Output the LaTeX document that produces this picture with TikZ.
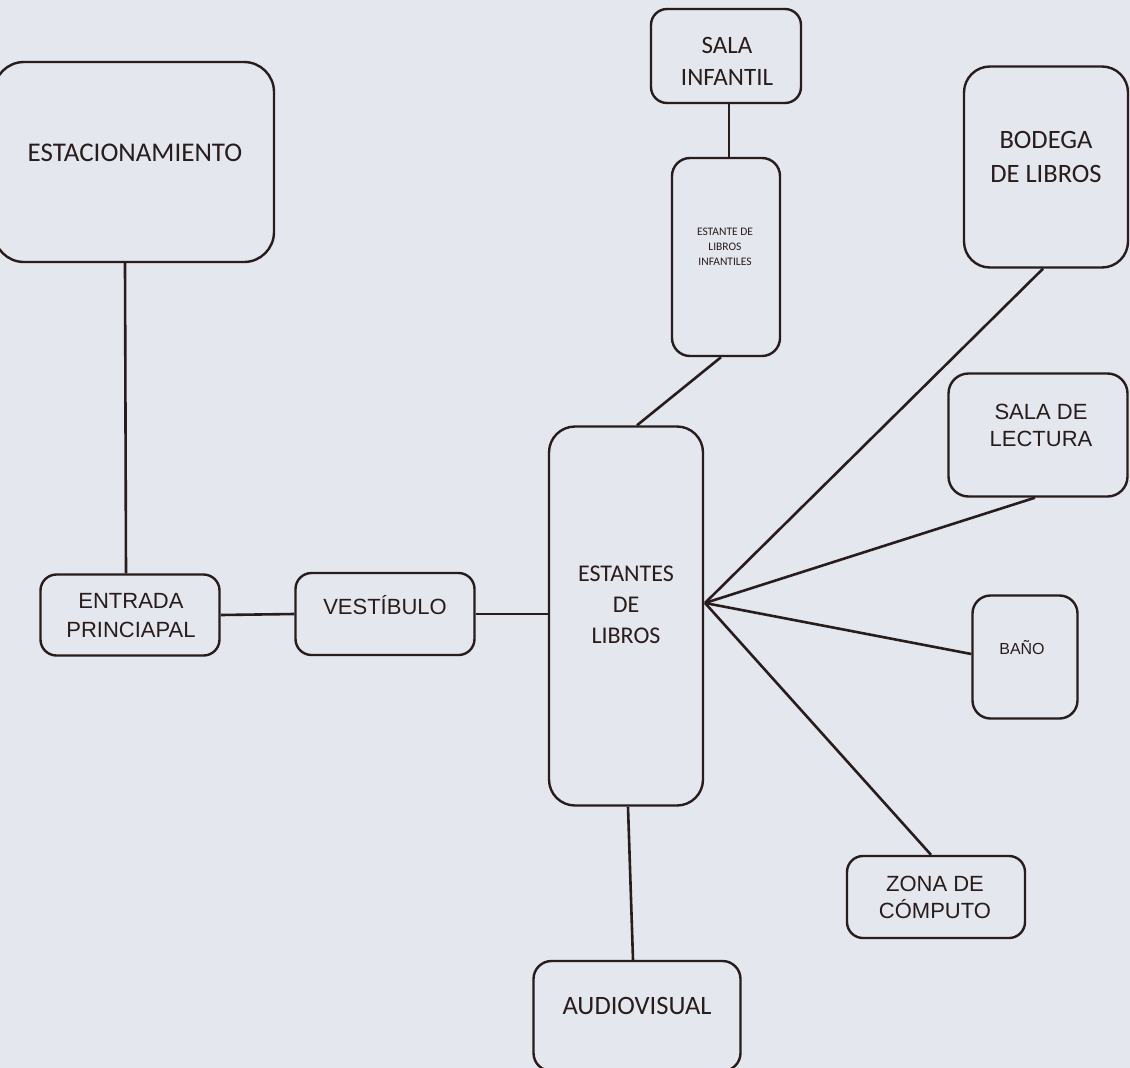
\documentclass[tikz,border=0pt]{standalone}
\usepackage{fontspec}
\setmainfont{Carlito}
\newfontfamily\arialf{Liberation Sans}
\usetikzlibrary{calc}
\definecolor{ink}{RGB}{40,28,28}
\definecolor{paper}{RGB}{228,231,237}
\tikzset{
  box/.style={draw=ink, line width=2.4pt, rounded corners=16pt, inner sep=0pt, fill=none},
  wire/.style={draw=ink, line width=2.6pt},
  carl/.style={text=ink, align=center, inner sep=0pt, font=\fontsize{25}{32}\selectfont},
  ari/.style={text=ink, align=center, inner sep=0pt, font=\arialf\fontsize{22}{27}\selectfont},
}
\begin{document}
\begin{tikzpicture}[x=1pt,y=-1pt]
\fill[paper] (0,0) rectangle (1130,1068);
\useasboundingbox (0,0) rectangle (1130,1068);

% boxes
\node[box, rounded corners=30pt, minimum width=280pt, minimum height=200pt] (est) at (134,162) {};
\node[carl, font=\fontsize{27}{32}\selectfont] (estT) at (135,153) {ESTACIONAMIENTO};

\node[box, minimum width=150pt, minimum height=94pt] (sinf) at (726,56) {};
\node[carl] (sinfT) at (727,61) {SALA\\INFANTIL};

\node[box, rounded corners=18pt, minimum width=108pt, minimum height=198pt] (inf) at (726,257) {};
\node[carl, font=\fontsize{11.5}{15}\selectfont] (infT) at (725,247) {ESTANTE DE\\LIBROS\\INFANTILES};

\node[box, rounded corners=26pt, minimum width=164pt, minimum height=201pt] (bod) at (1046,167) {};
\node[carl, font=\fontsize{26.5}{34}\selectfont] (bodT) at (1046,157) {BODEGA\\DE LIBROS};

\node[box, rounded corners=20pt, minimum width=179pt, minimum height=123pt] (lec) at (1038,435) {};
\node[ari] (lecT) at (1041,425) {SALA DE\\LECTURA};

\node[box, rounded corners=18pt, minimum width=105pt, minimum height=123pt] (bano) at (1025,657) {};
\node[ari, font=\arialf\fontsize{16}{18}\selectfont] (banoT) at (1022,648) {BAÑO};

\node[box, minimum width=178pt, minimum height=82pt] (comp) at (936,897) {};
\node[ari] (compT) at (935,897) {ZONA DE\\CÓMPUTO};

\node[box, rounded corners=18pt, minimum width=207pt, minimum height=110pt] (aud) at (637,1016) {};
\node[carl, font=\fontsize{26.5}{32}\selectfont] (audT) at (637,1006) {AUDIOVISUAL};

\node[box, rounded corners=26pt, minimum width=154pt, minimum height=379pt] (lib) at (626,616) {};
\node[carl, font=\fontsize{24}{31}\selectfont] (libT) at (626,605) {ESTANTES\\DE\\LIBROS};

\node[box, minimum width=179pt, minimum height=81pt] (ent) at (130,615) {};
\node[ari, font=\arialf\fontsize{22}{29}\selectfont] (entT) at (131,616) {ENTRADA\\PRINCIAPAL};

\node[box, minimum width=179pt, minimum height=82pt] (ves) at (385,614) {};
\node[ari] (vesT) at (385,605) {VESTÍBULO};

\coordinate (hub) at (705,603);

% connectors
\draw[wire] ($(est.south)+(-9,0)$) -- ($(ent.north)+(-4,0)$);
\draw[wire] (ent.east) -- (ves.west);
\draw[wire] (ves.east) -- ($(lib.west)+(0,-2)$);
\draw[wire] ($(sinf.south)+(3,0)$) -- ($(inf.north)+(3,0)$);
\draw[wire] ($(inf.south)+(-5,0)$) -- ($(lib.north)+(11,0)$);
\draw[wire] ($(lib.south)+(2,0)$) -- ($(aud.north)+(-4,0)$);
\draw[wire] (hub) -- ($(bod.south)+(-3,0)$);
\draw[wire] (hub) -- ($(lec.south)+(-3,0)$);
\draw[wire] (hub) -- ($(bano.west)+(0,-3)$);
\draw[wire] (hub) -- ($(comp.north)+(-5,0)$);
\end{tikzpicture}
\end{document}
